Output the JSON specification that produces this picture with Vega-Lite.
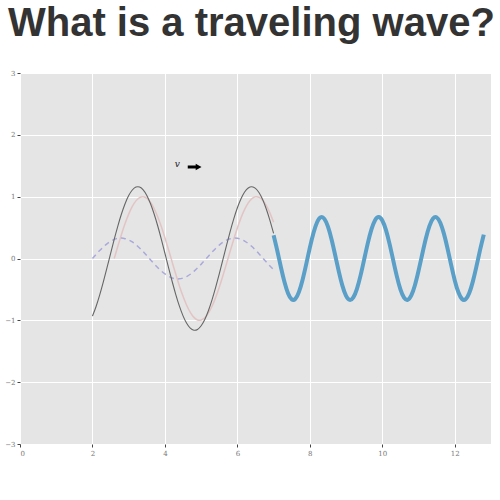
{
  "$schema": "https://vega.github.io/schema/vega-lite/v6.json",
  "autosize": {"type": "none"},
  "padding": {"left": 20, "top": 73, "right": 9, "bottom": 56},
  "width": 471,
  "height": 371,
  "title": {
    "text": "What is a traveling wave?",
    "font": "Liberation Sans",
    "fontWeight": "bold",
    "fontSize": 40,
    "color": "#333333",
    "anchor": "start",
    "frame": "group",
    "dx": -12,
    "baseline": "alphabetic",
    "offset": -7
  },
  "datasets": {
    "black": [
      {"x": 2.0, "y": -0.932}, {"x": 2.1, "y": -0.776}, {"x": 2.2, "y": -0.589}, {"x": 2.3, "y": -0.378},
      {"x": 2.4, "y": -0.153}, {"x": 2.5, "y": 0.079}, {"x": 2.6, "y": 0.308}, {"x": 2.7, "y": 0.524},
      {"x": 2.8, "y": 0.719}, {"x": 2.9, "y": 0.886}, {"x": 3.0, "y": 1.018}, {"x": 3.1, "y": 1.108},
      {"x": 3.2, "y": 1.155}, {"x": 3.3, "y": 1.156}, {"x": 3.4, "y": 1.110}, {"x": 3.5, "y": 1.020},
      {"x": 3.6, "y": 0.890}, {"x": 3.7, "y": 0.724}, {"x": 3.8, "y": 0.530}, {"x": 3.9, "y": 0.314},
      {"x": 4.0, "y": 0.085}, {"x": 4.1, "y": -0.147}, {"x": 4.2, "y": -0.372}, {"x": 4.3, "y": -0.583},
      {"x": 4.4, "y": -0.771}, {"x": 4.5, "y": -0.928}, {"x": 4.6, "y": -1.048}, {"x": 4.7, "y": -1.127},
      {"x": 4.8, "y": -1.160}, {"x": 4.9, "y": -1.147}, {"x": 5.0, "y": -1.088}, {"x": 5.1, "y": -0.986},
      {"x": 5.2, "y": -0.845}, {"x": 5.3, "y": -0.670}, {"x": 5.4, "y": -0.468}, {"x": 5.5, "y": -0.248},
      {"x": 5.6, "y": -0.018}, {"x": 5.7, "y": 0.214}, {"x": 5.8, "y": 0.436}, {"x": 5.9, "y": 0.641},
      {"x": 6.0, "y": 0.821}, {"x": 6.1, "y": 0.967}, {"x": 6.2, "y": 1.076}, {"x": 6.3, "y": 1.141},
      {"x": 6.4, "y": 1.161}, {"x": 6.5, "y": 1.135}, {"x": 6.6, "y": 1.063}, {"x": 6.7, "y": 0.949},
      {"x": 6.8, "y": 0.797}, {"x": 6.9, "y": 0.614}, {"x": 7.0, "y": 0.405}
    ],
    "pink": [
      {"x": 2.6, "y": 0.0}, {"x": 2.7, "y": 0.199}, {"x": 2.8, "y": 0.389}, {"x": 2.9, "y": 0.565},
      {"x": 3.0, "y": 0.717}, {"x": 3.1, "y": 0.842}, {"x": 3.2, "y": 0.932}, {"x": 3.3, "y": 0.985},
      {"x": 3.4, "y": 1.0}, {"x": 3.5, "y": 0.974}, {"x": 3.6, "y": 0.909}, {"x": 3.7, "y": 0.809},
      {"x": 3.8, "y": 0.676}, {"x": 3.9, "y": 0.516}, {"x": 4.0, "y": 0.335}, {"x": 4.1, "y": 0.141},
      {"x": 4.2, "y": -0.058}, {"x": 4.3, "y": -0.256}, {"x": 4.4, "y": -0.443}, {"x": 4.5, "y": -0.612},
      {"x": 4.6, "y": -0.757}, {"x": 4.7, "y": -0.872}, {"x": 4.8, "y": -0.952}, {"x": 4.9, "y": -0.994},
      {"x": 5.0, "y": -0.996}, {"x": 5.1, "y": -0.959}, {"x": 5.2, "y": -0.884}, {"x": 5.3, "y": -0.773},
      {"x": 5.4, "y": -0.631}, {"x": 5.5, "y": -0.465}, {"x": 5.6, "y": -0.279}, {"x": 5.7, "y": -0.083},
      {"x": 5.8, "y": 0.117}, {"x": 5.9, "y": 0.312}, {"x": 6.0, "y": 0.494}, {"x": 6.1, "y": 0.657},
      {"x": 6.2, "y": 0.794}, {"x": 6.3, "y": 0.899}, {"x": 6.4, "y": 0.968}, {"x": 6.5, "y": 0.999},
      {"x": 6.6, "y": 0.989}, {"x": 6.7, "y": 0.941}, {"x": 6.8, "y": 0.855}, {"x": 6.9, "y": 0.734},
      {"x": 7.0, "y": 0.585}
    ],
    "dashed": [
      {"x": 2.0, "y": 0.0}, {"x": 2.1, "y": 0.066}, {"x": 2.2, "y": 0.129}, {"x": 2.3, "y": 0.186},
      {"x": 2.4, "y": 0.237}, {"x": 2.5, "y": 0.278}, {"x": 2.6, "y": 0.308}, {"x": 2.7, "y": 0.325},
      {"x": 2.8, "y": 0.330}, {"x": 2.9, "y": 0.321}, {"x": 3.0, "y": 0.300}, {"x": 3.1, "y": 0.267},
      {"x": 3.2, "y": 0.223}, {"x": 3.3, "y": 0.170}, {"x": 3.4, "y": 0.111}, {"x": 3.5, "y": 0.047},
      {"x": 3.6, "y": -0.019}, {"x": 3.7, "y": -0.084}, {"x": 3.8, "y": -0.146}, {"x": 3.9, "y": -0.202},
      {"x": 4.0, "y": -0.250}, {"x": 4.1, "y": -0.288}, {"x": 4.2, "y": -0.314}, {"x": 4.3, "y": -0.328},
      {"x": 4.4, "y": -0.329}, {"x": 4.5, "y": -0.316}, {"x": 4.6, "y": -0.292}, {"x": 4.7, "y": -0.255},
      {"x": 4.8, "y": -0.208}, {"x": 4.9, "y": -0.153}, {"x": 5.0, "y": -0.092}, {"x": 5.1, "y": -0.027},
      {"x": 5.2, "y": 0.038}, {"x": 5.3, "y": 0.103}, {"x": 5.4, "y": 0.163}, {"x": 5.5, "y": 0.217},
      {"x": 5.6, "y": 0.262}, {"x": 5.7, "y": 0.297}, {"x": 5.8, "y": 0.319}, {"x": 5.9, "y": 0.330},
      {"x": 6.0, "y": 0.327}, {"x": 6.1, "y": 0.310}, {"x": 6.2, "y": 0.282}, {"x": 6.3, "y": 0.242},
      {"x": 6.4, "y": 0.193}, {"x": 6.5, "y": 0.136}, {"x": 6.6, "y": 0.074}, {"x": 6.7, "y": 0.008},
      {"x": 6.8, "y": -0.058}, {"x": 6.9, "y": -0.121}, {"x": 7.0, "y": -0.180}
    ],
    "thick": [
      {"x": 7.0, "y": 0.375}, {"x": 7.1, "y": 0.129}, {"x": 7.2, "y": -0.137}, {"x": 7.3, "y": -0.381},
      {"x": 7.4, "y": -0.566}, {"x": 7.5, "y": -0.661}, {"x": 7.6, "y": -0.652}, {"x": 7.7, "y": -0.539},
      {"x": 7.8, "y": -0.342}, {"x": 7.9, "y": -0.091}, {"x": 8.0, "y": 0.175}, {"x": 8.1, "y": 0.413},
      {"x": 8.2, "y": 0.586}, {"x": 8.3, "y": 0.666}, {"x": 8.4, "y": 0.641}, {"x": 8.5, "y": 0.516},
      {"x": 8.6, "y": 0.308}, {"x": 8.7, "y": 0.052}, {"x": 8.8, "y": -0.212}, {"x": 8.9, "y": -0.443},
      {"x": 9.0, "y": -0.604}, {"x": 9.1, "y": -0.669}, {"x": 9.2, "y": -0.629}, {"x": 9.3, "y": -0.490},
      {"x": 9.4, "y": -0.273}, {"x": 9.5, "y": -0.013}, {"x": 9.6, "y": 0.249}, {"x": 9.7, "y": 0.472},
      {"x": 9.8, "y": 0.620}, {"x": 9.9, "y": 0.670}, {"x": 10.0, "y": 0.614}, {"x": 10.1, "y": 0.462},
      {"x": 10.2, "y": 0.236}, {"x": 10.3, "y": -0.026}, {"x": 10.4, "y": -0.285}, {"x": 10.5, "y": -0.499},
      {"x": 10.6, "y": -0.633}, {"x": 10.7, "y": -0.668}, {"x": 10.8, "y": -0.598}, {"x": 10.9, "y": -0.433},
      {"x": 11.0, "y": -0.199}, {"x": 11.1, "y": 0.065}, {"x": 11.2, "y": 0.320}, {"x": 11.3, "y": 0.524},
      {"x": 11.4, "y": 0.645}, {"x": 11.5, "y": 0.665}, {"x": 11.6, "y": 0.579}, {"x": 11.7, "y": 0.402},
      {"x": 11.8, "y": 0.162}, {"x": 11.9, "y": -0.104}, {"x": 12.0, "y": -0.354}, {"x": 12.1, "y": -0.547},
      {"x": 12.2, "y": -0.655}, {"x": 12.3, "y": -0.659}, {"x": 12.4, "y": -0.559}, {"x": 12.5, "y": -0.370},
      {"x": 12.6, "y": -0.124}, {"x": 12.7, "y": 0.143}, {"x": 12.8, "y": 0.386}
    ],
    "label": [{"x": 4.34, "y": 1.53, "text": "v"}],
    "shaft": [{"x": 4.63, "x2": 4.9, "y": 1.48}],
    "head": [{"x": 4.93, "y": 1.48}]
  },
  "encoding": {
    "x": {
      "field": "x",
      "type": "quantitative",
      "scale": {"domain": [0, 13], "nice": false, "zero": false},
      "axis": {
        "title": null,
        "values": [0, 2, 4, 6, 8, 10, 12],
        "domain": false,
        "grid": true,
        "gridColor": "#ffffff",
        "gridWidth": 1,
        "tickColor": "#444444",
        "tickSize": 3,
        "labelFont": "DejaVu Serif",
        "labelFontSize": 7,
        "labelColor": "#777777",
        "labelPadding": 2
      }
    },
    "y": {
      "field": "y",
      "type": "quantitative",
      "scale": {"domain": [-3, 3], "nice": false},
      "axis": {
        "title": null,
        "values": [-3, -2, -1, 0, 1, 2, 3],
        "domain": false,
        "grid": true,
        "gridColor": "#ffffff",
        "gridWidth": 1,
        "tickColor": "#444444",
        "tickSize": 3,
        "labelFont": "DejaVu Serif",
        "labelFontSize": 7,
        "labelColor": "#777777",
        "labelPadding": 2
      }
    }
  },
  "layer": [
    {
      "data": {"name": "pink"},
      "mark": {"type": "line", "color": "#e3c4c4", "strokeWidth": 1.5, "interpolate": "natural"}
    },
    {
      "data": {"name": "dashed"},
      "mark": {"type": "line", "color": "#a9a9dc", "strokeWidth": 1.5, "strokeDash": [5, 4], "interpolate": "natural"}
    },
    {
      "data": {"name": "black"},
      "mark": {"type": "line", "color": "#666666", "strokeWidth": 1.1, "interpolate": "natural"}
    },
    {
      "data": {"name": "thick"},
      "mark": {"type": "line", "color": "#5a9fc8", "strokeWidth": 4, "interpolate": "natural"}
    },
    {
      "data": {"name": "label"},
      "mark": {"type": "text", "font": "DejaVu Serif", "fontStyle": "italic", "fontSize": 9, "color": "#222222"},
      "encoding": {"text": {"field": "text"}}
    },
    {
      "data": {"name": "shaft"},
      "mark": {"type": "rule", "color": "#000000", "strokeWidth": 3},
      "encoding": {"x2": {"field": "x2"}}
    },
    {
      "data": {"name": "head"},
      "mark": {"type": "point", "shape": "triangle-right", "filled": true, "color": "#000000", "size": 45, "opacity": 1}
    }
  ],
  "config": {
    "view": {"fill": "#e5e5e5", "stroke": null},
    "background": "#ffffff"
  }
}
